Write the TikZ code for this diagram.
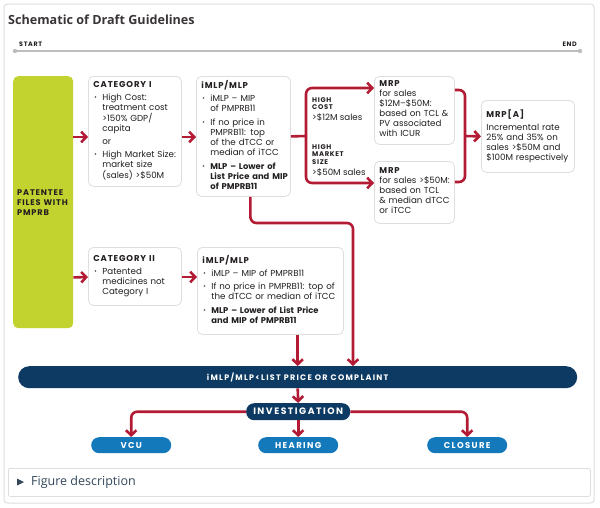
\documentclass[tikz,border=0pt]{standalone}
\usepackage{fontspec}
\usepackage{array}
\setmainfont{Poppins}
\newfontfamily\opensans{Open Sans}
\newfontfamily\spacedfont[LetterSpace=10]{Poppins}
\newfontfamily\widefont[LetterSpace=16]{Poppins}
\usetikzlibrary{positioning,arrows.meta}
\definecolor{pmred}{HTML}{B31B34}
\definecolor{pmgreen}{HTML}{C2D22E}
\definecolor{pmnavy}{HTML}{0D3A63}
\definecolor{pmblue}{HTML}{1479BA}
\definecolor{pmline}{HTML}{DEDEDE}
\definecolor{pmgray}{HTML}{BDBDBD}
\definecolor{pmtext}{HTML}{231F20}
\definecolor{pmslate}{HTML}{33475B}
% lines kept as given, never wrapped
\newcommand{\lines}[2][]{\begin{tabular}[t]{@{}>{#1}l@{}}#2\end{tabular}}
% bullet item
\newcommand{\itm}[2][]{\par\vspace{3pt}\noindent
  \makebox[9pt][l]{\hspace{1pt}\raisebox{0.5pt}{\scalebox{0.7}{\textbullet}}}\lines[#1]{#2}\par}
\newcommand{\boxhead}[1]{{\spacedfont\bfseries\fontsize{8.5}{10}\selectfont #1}\par}
\newcommand{\lblhead}[1]{{\spacedfont\bfseries\fontsize{6.8}{7}\selectfont #1}}
\newcommand{\boldline}{\bfseries\fontsize{8.4}{10}\selectfont}

\begin{document}
\begin{tikzpicture}[x=1pt, y=-1pt, font=\fontsize{8.7}{10}\selectfont, text=pmtext,
    box/.style={draw=pmline, line width=0.8pt, fill=white, rounded corners=5pt,
                anchor=north west, inner xsep=5pt, inner ysep=3pt, align=left},
    pill/.style={fill=#1, rounded corners=8pt, anchor=north west, text=white,
                 font=\widefont\bfseries\fontsize{8.5}{9}\selectfont, inner sep=0pt},
    arr/.style={draw=pmred, line width=2.6pt, rounded corners=6pt, line join=round,
                -{Straight Barb[length=5pt,width=10.5pt]}},
    lbl/.style={anchor=north west, align=left, inner sep=0pt}]
  \useasboundingbox (0,0) rectangle (600,507);
  % frame and title
  \draw[pmline, line width=1pt, fill=white, rounded corners=3pt] (4,4) rectangle (594,503);
  \node[anchor=base west, inner sep=0pt, font=\opensans\bfseries\fontsize{12.6}{14}\selectfont,
        text=pmtext!90] (title) at (8,24) {Schematic of Draft Guidelines};
  % timeline
  \coordinate (tls) at (15,51);
  \coordinate (tle) at (580,51);
  \draw[pmgray, line width=1.6pt] (tls) -- (tle);
  \fill[pmgray] (tls) circle (2.2pt) (tle) circle (2.2pt);
  \node[anchor=base west, inner sep=0pt, font=\spacedfont\bfseries\fontsize{6.4}{7}\selectfont]
    (start) at (19,46.5) {START};
  \node[anchor=base east, inner sep=0pt, font=\spacedfont\bfseries\fontsize{6.4}{7}\selectfont]
    (end) at (577,46.5) {END};

  % first row
  \node[fill=pmgreen, rounded corners=5pt, anchor=north west, minimum width=60pt,
        minimum height=252pt, inner xsep=4pt, text width=52pt, align=left,
        font=\spacedfont\bfseries\fontsize{8.2}{10}\selectfont] (pat) at (13,76)
    {PATENTEE\\FILES WITH\\PMPRB};
  \node[box, text width=83pt, minimum height=110pt] (cat1) at (88,76)
    {\boxhead{CATEGORY I}
     \itm{High Cost:\\treatment cost\\>150\% GDP/\\capita}
     \par\vspace{4pt}\noindent\hspace*{9pt}or\par
     \itm{High Market Size:\\market size\\(sales) >\$50M}};
  \node[box, text width=84pt, minimum height=120pt] (imlp1) at (196,76)
    {\boxhead{iMLP/MLP}
     \itm{iMLP -- MIP\\of PMPRB11}
     \itm{If no price in\\PMPRB11: top\\of the dTCC or\\median of iTCC}
     \itm[\boldline]{MLP -- Lower of\\List Price and MIP\\of PMPRB11}};
  \node[box, text width=70pt, minimum height=68pt] (mrp1) at (374,76)
    {\boxhead{MRP}
     \lines{for sales\\\$12M--\$50M:\\based on TCL \&\\PV associated\\with ICUR}};
  \node[box, text width=70pt, minimum height=62pt] (mrp2) at (374,161)
    {\boxhead{MRP}
     \lines{for sales >\$50M:\\based on TCL\\\& median dTCC\\or iTCC}};
  \node[box, text width=83pt, minimum height=72pt] (mrpa) at (481,100)
    {\boxhead{MRP[A]}\par\vspace{3pt}
     \lines{Incremental rate\\25\% and 35\% on\\sales >\$50M and\\\$100M respectively}};
  % branch labels
  \node[lbl] (hcost) at (312,97)
    {\lblhead{HIGH}\\[-2.5pt]\lblhead{COST}\\[1pt]>\$12M sales};
  \node[lbl] (hsize) at (312,144)
    {\lblhead{HIGH}\\[-2.5pt]\lblhead{MARKET}\\[-2.5pt]\lblhead{SIZE}\\[1.5pt]>\$50M sales};

  % second row
  \node[box, text width=83pt, minimum height=58pt] (cat2) at (88,247)
    {\boxhead{CATEGORY II}
     \itm{Patented\\medicines not\\Category I}};
  \node[box, text width=136pt, minimum height=87pt] (imlp2) at (197,247)
    {\boxhead{iMLP/MLP}
     \itm{iMLP -- MIP of PMPRB11}
     \itm{If no price in PMPRB11: top of\\the dTCC or median of iTCC}
     \itm[\boldline]{MLP -- Lower of List Price\\and MIP of PMPRB11}};

  % bottom
  \node[pill=pmnavy, rounded corners=11pt, minimum width=559pt, minimum height=22pt,
        font=\widefont\bfseries\fontsize{8}{9}\selectfont] (bar) at (18,366)
    {iMLP/MLP<LIST PRICE OR COMPLAINT};
  \node[pill=pmnavy, minimum width=104pt, minimum height=17pt,
        font=\widefont\bfseries\fontsize{9.3}{10}\selectfont] (inv) at (246,403) {INVESTIGATION};
  \node[pill=pmblue, minimum width=80pt, minimum height=16pt] (vcu) at (91,437) {VCU};
  \node[pill=pmblue, minimum width=80pt, minimum height=16pt] (hear) at (258,437) {HEARING};
  \node[pill=pmblue, minimum width=80pt, minimum height=16pt] (clos) at (427,437) {CLOSURE};

  % connectors
  \coordinate (brl) at (306,136);
  \coordinate (brr) at (465,136);
  \coordinate (jn) at (353,223);
  \draw[arr] ([yshift=-61]pat.north east) -- (cat1.west |- 0,137);
  \draw[arr] (cat1.east |- 0,137) -- (imlp1.west |- 0,137);
  \draw[draw=pmred, line width=2.6pt] (imlp1.east) -- (brl);
  \draw[arr] (brl) |- ([yshift=-12]mrp1.north west);
  \draw[arr] (brl) |- ([yshift=-22]mrp2.north west);
  \draw[draw=pmred, line width=2.6pt, rounded corners=6pt]
    ([yshift=-14]mrp1.north east) -| (brr) |- ([yshift=-21]mrp2.north east);
  \draw[arr] (brr) -- (mrpa.west);
  \draw[arr] ([yshift=51]pat.south east) -- (cat2.west |- 0,277);
  \draw[arr] (cat2.east |- 0,277) -- (imlp2.west |- 0,277);
  \draw[arr] ([xshift=7]imlp1.south) |- (jn) -- (jn |- bar.north);
  \draw[arr] (bar.north |- imlp2.south) -- (bar.north);
  \draw[arr] (bar.south) -- (inv.north);
  \draw[arr] (inv.west) -| (vcu.north);
  \draw[arr] (inv.south) -- (hear.north);
  \draw[arr] (inv.east) -| (clos.north);

  % figure description
  \node[draw=pmline, line width=0.8pt, rounded corners=2pt, anchor=north west,
        minimum width=582pt, minimum height=28pt] (fdbox) at (8,468) {};
  \node[anchor=west, inner sep=0pt, text=pmslate, font=\opensans\fontsize{12.5}{14}\selectfont]
    (fdtext) at (31,482) {Figure description};
  \fill[pmslate] (17,478.5) -- (24,482) -- (17,485.5) -- cycle;
\end{tikzpicture}
\end{document}
